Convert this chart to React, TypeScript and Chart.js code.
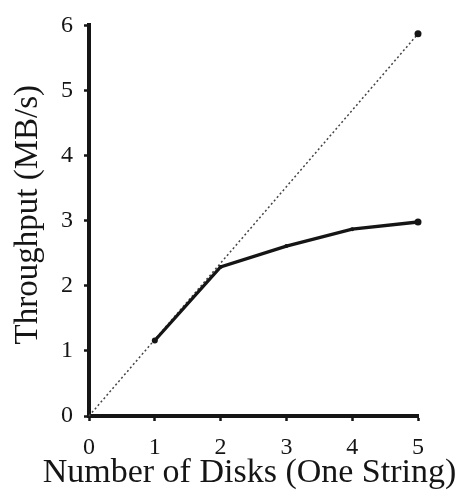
import React, { useEffect, useRef } from "react";
import { Chart, registerables } from "chart.js";

Chart.register(...registerables);

const disks = [1, 2, 3, 4, 5];
const throughput = [1.16, 2.29, 2.61, 2.87, 2.98];
const idealDisks = [0, 5];
const idealThroughput = [0, 5.87];
const xTicks = [0, 1, 2, 3, 4, 5];
const yTicks = [0, 1, 2, 3, 4, 5, 6];
const xTitle = "Number of Disks (One String)";
const yTitle = "Throughput (MB/s)";

const FONT = "'Liberation Serif', 'Times New Roman', serif";
const INK = "#151515";

const axisTitlePlugin = {
  id: "axisTitlesFree",
  afterDraw(chart: any) {
    const { ctx, chartArea } = chart;
    ctx.save();
    ctx.font = `34px ${FONT}`;
    ctx.fillStyle = INK;
    ctx.textAlign = "center";
    ctx.textBaseline = "alphabetic";
    ctx.fillText(xTitle, (chartArea.left + chartArea.right) / 2 - 4, 482);
    ctx.translate(28, (chartArea.top + chartArea.bottom) / 2 - 6);
    ctx.rotate(-Math.PI / 2);
    ctx.textBaseline = "middle";
    ctx.font = `33px ${FONT}`;
    ctx.fillText(yTitle, 0, 0);
    ctx.restore();
  },
};

export default function App() {
  const ref = useRef<HTMLCanvasElement | null>(null);
  useEffect(() => {
    const canvas = ref.current;
    if (!canvas) return;
    const chart = new Chart(canvas, {
      type: "line",
      data: {
        datasets: [
          {
            data: disks.map((d, i) => ({ x: d, y: throughput[i] })),
            borderColor: INK,
            backgroundColor: INK,
            borderWidth: 3.3,
            pointRadius: [3, 2, 2, 2, 3.5],
            pointBorderWidth: 0,
            pointBackgroundColor: INK,
            tension: 0,
            clip: false,
            order: 0,
          },
          {
            data: idealDisks.map((d, i) => ({ x: d, y: idealThroughput[i] })),
            borderColor: "#444",
            backgroundColor: INK,
            borderWidth: 1.5,
            borderDash: [2, 2.5],
            pointRadius: [0, 3.5],
            pointBorderWidth: 0,
            pointBackgroundColor: INK,
            tension: 0,
            clip: false,
            order: 1,
          },
        ],
      },
      options: {
        responsive: false,
        animation: false,
        layout: { padding: { top: 23, right: 45, left: 0, bottom: 0 } },
        plugins: { legend: { display: false }, tooltip: { enabled: false } },
        scales: {
          x: {
            type: "linear",
            min: 0,
            max: 5,
            afterBuildTicks: (s: any) => {
              s.ticks = xTicks.map((v) => ({ value: v }));
            },
            afterFit: (s: any) => {
              s.height = 75;
            },
            ticks: {
              color: INK,
              font: { family: FONT, size: 24 },
              padding: 12,
            },
            grid: {
              drawOnChartArea: false,
              drawTicks: true,
              tickLength: 5,
              tickWidth: 2.5,
              tickColor: INK,
            },
            border: { display: true, width: 4, color: INK },
            title: { display: false },
          },
          y: {
            type: "linear",
            min: 0,
            max: 6,
            afterBuildTicks: (s: any) => {
              s.ticks = yTicks.map((v) => ({ value: v }));
            },
            afterFit: (s: any) => {
              s.width = 89;
            },
            ticks: {
              color: INK,
              font: { family: FONT, size: 24 },
              padding: 11,
            },
            grid: {
              drawOnChartArea: false,
              drawTicks: true,
              tickLength: 5,
              tickWidth: 2.5,
              tickColor: INK,
            },
            border: { display: true, width: 4, color: INK },
            title: { display: false },
          },
        },
      },
      plugins: [axisTitlePlugin],
    });
    return () => chart.destroy();
  }, []);
  return (
    <div style={{ position: "absolute", left: 0, top: 0, width: 463, height: 491, background: "#fff" }}>
      <canvas ref={ref} width={463} height={491} style={{ display: "block" }} />
    </div>
  );
}
